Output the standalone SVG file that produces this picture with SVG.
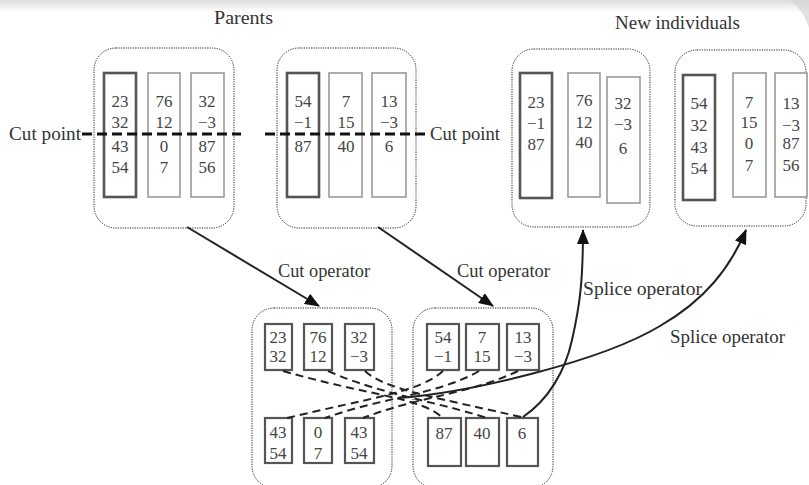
<svg xmlns="http://www.w3.org/2000/svg" width="809" height="485" viewBox="0 0 809 485">
<defs>
<linearGradient id="band" x1="0" y1="0" x2="0" y2="1">
<stop offset="0" stop-color="#dcdcdc"/>
<stop offset="1" stop-color="#ffffff"/>
</linearGradient>
<marker id="ah" markerUnits="userSpaceOnUse" markerWidth="16" markerHeight="12" refX="14" refY="6" orient="auto">
<path d="M0,0 L15,6 L0,12 z" fill="#111"/>
</marker>
<style>
text{font-family:"Liberation Serif","Times New Roman",serif;fill:#333}
.lbl{font-size:18px}
.ttl{font-size:18px}
.num{font-size:17px;fill:#444;text-anchor:middle}
.grp{fill:none;stroke:#222;stroke-width:1;stroke-dasharray:1.2 1.2}
.cd{fill:#fff;stroke:#555;stroke-width:2.6}
.cl{fill:#fff;stroke:#9a9a9a;stroke-width:1.6}
.sb{fill:#fff;stroke:#555;stroke-width:2.2}
.cut{fill:none;stroke:#111;stroke-width:2.8;stroke-dasharray:10 5}
.xd{fill:none;stroke:#222;stroke-width:2;stroke-dasharray:8 5}
.arr{fill:none;stroke:#222;stroke-width:2;marker-end:url(#ah)}
</style>
</defs>
<rect x="0" y="0" width="809" height="485" fill="#fff"/>
<rect x="0" y="0" width="809" height="12" fill="url(#band)"/>
<path d="M790,0 C800,8 806,18 809,28 L809,0 z" fill="#d4d4d4" opacity="0.7"/>

<text class="ttl" x="214" y="24" textLength="59" lengthAdjust="spacingAndGlyphs">Parents</text>
<text class="ttl" x="615" y="29" textLength="125" lengthAdjust="spacingAndGlyphs">New individuals</text>

<g id="parent1">
<rect class="grp" x="94" y="48" width="140" height="180" rx="22"/>
<rect class="cd" x="104" y="73" width="32" height="124"/>
<rect class="cl" x="148" y="73" width="32" height="124"/>
<rect class="cl" x="191" y="73" width="33" height="124"/>
<text class="num" x="120" y="107">23</text><text class="num" x="120" y="128">32</text><text class="num" x="120" y="152">43</text><text class="num" x="120" y="173">54</text>
<text class="num" x="164" y="107">76</text><text class="num" x="164" y="128">12</text><text class="num" x="164" y="152">0</text><text class="num" x="164" y="173">7</text>
<text class="num" x="207" y="107">32</text><text class="num" x="207" y="128">−3</text><text class="num" x="207" y="152">87</text><text class="num" x="207" y="173">56</text>
</g>

<g id="parent2">
<rect class="grp" x="277" y="48" width="139" height="180" rx="22"/>
<rect class="cd" x="287" y="73" width="32" height="124"/>
<rect class="cl" x="329" y="73" width="33" height="124"/>
<rect class="cl" x="372" y="73" width="34" height="124"/>
<text class="num" x="303" y="107">54</text><text class="num" x="303" y="128">−1</text><text class="num" x="303" y="152">87</text>
<text class="num" x="346" y="107">7</text><text class="num" x="346" y="128">15</text><text class="num" x="346" y="152">40</text>
<text class="num" x="389" y="107">13</text><text class="num" x="389" y="128">−3</text><text class="num" x="389" y="152">6</text>
</g>

<g id="cutpoints">
<text class="lbl" x="9" y="140" textLength="72" lengthAdjust="spacingAndGlyphs">Cut point</text>
<path class="cut" d="M82,134 H241"/>
<path class="cut" d="M265,134 H426"/>
<text class="lbl" x="430" y="140" textLength="70" lengthAdjust="spacingAndGlyphs">Cut point</text>
</g>

<g id="newind1">
<rect class="grp" x="512" y="49" width="138" height="178" rx="22"/>
<rect class="cd" x="520" y="73" width="32" height="125"/>
<rect class="cl" x="568" y="73" width="32" height="124"/>
<rect class="cl" x="607" y="77" width="33" height="126"/>
<text class="num" x="536" y="108">23</text><text class="num" x="536" y="129">−1</text><text class="num" x="536" y="150">87</text>
<text class="num" x="584" y="106">76</text><text class="num" x="584" y="128">12</text><text class="num" x="584" y="148">40</text>
<text class="num" x="623" y="109">32</text><text class="num" x="623" y="130">−3</text><text class="num" x="623" y="154">6</text>
</g>

<g id="newind2">
<rect class="grp" x="675" y="50" width="131" height="176" rx="22"/>
<rect class="cd" x="683" y="75" width="32" height="125"/>
<rect class="cl" x="733" y="73" width="33" height="124"/>
<rect class="cl" x="775" y="73" width="32" height="124"/>
<text class="num" x="699" y="109">54</text><text class="num" x="699" y="131">32</text><text class="num" x="699" y="153">43</text><text class="num" x="699" y="174">54</text>
<text class="num" x="749" y="108">7</text><text class="num" x="749" y="128">15</text><text class="num" x="749" y="149">0</text><text class="num" x="749" y="171">7</text>
<text class="num" x="791" y="109">13</text><text class="num" x="791" y="131">−3</text><text class="num" x="791" y="149">87</text><text class="num" x="791" y="171">56</text>
</g>

<g id="pieces1">
<rect class="grp" x="252" y="308" width="140" height="180" rx="22"/>
<rect class="sb" x="265" y="324" width="27" height="46"/>
<rect class="sb" x="304" y="324" width="28" height="46"/>
<rect class="sb" x="345" y="324" width="29" height="46"/>
<rect class="sb" x="265" y="418" width="27" height="45"/>
<rect class="sb" x="304" y="418" width="28" height="45"/>
<rect class="sb" x="345" y="418" width="29" height="45"/>
<text class="num" x="278" y="343">23</text><text class="num" x="278" y="362">32</text>
<text class="num" x="318" y="343">76</text><text class="num" x="318" y="362">12</text>
<text class="num" x="359" y="343">32</text><text class="num" x="359" y="362">−3</text>
<text class="num" x="278" y="438">43</text><text class="num" x="278" y="459">54</text>
<text class="num" x="318" y="438">0</text><text class="num" x="318" y="459">7</text>
<text class="num" x="359" y="438">43</text><text class="num" x="359" y="459">54</text>
</g>

<g id="pieces2">
<rect class="grp" x="413" y="308" width="140" height="180" rx="22"/>
<rect class="sb" x="427" y="324" width="32" height="46"/>
<rect class="sb" x="466" y="324" width="33" height="46"/>
<rect class="sb" x="507" y="324" width="32" height="46"/>
<rect class="sb" x="428" y="418" width="33" height="48"/>
<rect class="sb" x="466" y="418" width="33" height="48"/>
<rect class="sb" x="507" y="418" width="31" height="48"/>
<text class="num" x="443" y="343">54</text><text class="num" x="443" y="362">−1</text>
<text class="num" x="482" y="343">7</text><text class="num" x="482" y="362">15</text>
<text class="num" x="523" y="343">13</text><text class="num" x="523" y="362">−3</text>
<text class="num" x="444" y="439">87</text>
<text class="num" x="482" y="439">40</text>
<text class="num" x="522" y="439">6</text>
</g>

<g id="connectors">
<path class="arr" d="M187,227 L319,306"/>
<path class="arr" d="M378,227 L493,306"/>
<path class="xd" d="M283,371 C370,396 420,397 443,418"/>
<path class="xd" d="M328,371 C380,394 430,400 487,418"/>
<path class="xd" d="M365,371 C385,390 440,398 525,418"/>
<path class="xd" d="M443,371 C420,392 370,398 287,418"/>
<path class="xd" d="M479,371 C440,394 380,398 325,418"/>
<path class="xd" d="M518,371 C470,394 420,396 363,418"/>
<path class="arr" d="M400,398 C470,392 600,362 660,326 C705,300 730,268 746,230"/>
<path class="arr" d="M523,417 C548,400 565,372 572,340 C580,305 583,280 583,230"/>
</g>

<g id="labels">
<text class="lbl" x="278" y="277" textLength="92" lengthAdjust="spacingAndGlyphs">Cut operator</text>
<text class="lbl" x="457" y="277" textLength="93" lengthAdjust="spacingAndGlyphs">Cut operator</text>
<text class="lbl" x="583" y="295" textLength="119" lengthAdjust="spacingAndGlyphs">Splice operator</text>
<text class="lbl" x="670" y="343" textLength="115" lengthAdjust="spacingAndGlyphs">Splice operator</text>
</g>
</svg>
